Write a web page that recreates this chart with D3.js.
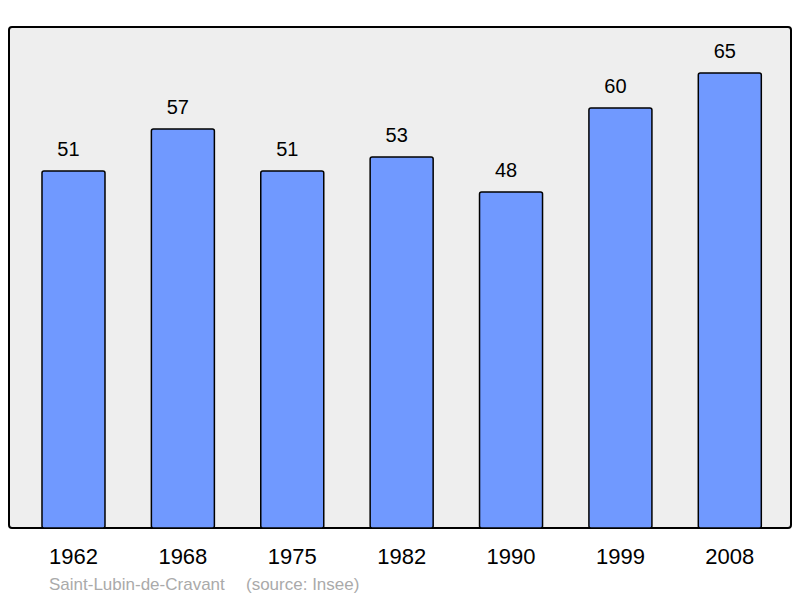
<!DOCTYPE html>
<html>
<head>
<meta charset="utf-8">
<script src="https://cdn.jsdelivr.net/npm/d3@7"></script>
<style>
  body { margin: 0; background: #fff; }
  svg { display: block; font-family: "Liberation Sans", Arial, sans-serif; }
</style>
</head>
<body>
<svg id="chart"></svg>
<script>
// population by census year
const years = ['1962', '1968', '1975', '1982', '1990', '1999', '2008'];
const population = [51, 57, 51, 53, 48, 60, 65];
const commune = 'Saint-Lubin-de-Cravant';
const source = '(source: Insee)';

const width = 800, height = 598;

const svg = d3.select('#chart')
    .attr('width', width)
    .attr('height', height);

// grey panel
svg.append('rect')
    .attr('x', 9).attr('y', 27)
    .attr('width', 782).attr('height', 501)
    .attr('rx', 3)
    .attr('fill', '#eeeeee')
    .attr('stroke', '#000')
    .attr('stroke-width', 2);

const data = years.map((y, i) => ({ year: y, value: population[i] }));

const x = d3.scaleBand()
    .domain(years)
    .range([18.8, 784.5])
    .paddingInner(0.424)
    .paddingOuter(0.212);

const y = d3.scaleLinear()
    .domain([0, 65])
    .range([528, 73]);

svg.append('g').selectAll('rect')
    .data(data)
    .join('rect')
    .attr('x', d => x(d.year))
    .attr('y', d => y(d.value))
    .attr('width', x.bandwidth())
    .attr('height', d => y(0) - y(d.value))
    .attr('rx', 2)
    .attr('fill', '#7099ff')
    .attr('stroke', '#000')
    .attr('stroke-width', 1.5);

// value labels (sit slightly left of bar centre)
svg.append('g').selectAll('text')
    .data(data)
    .join('text')
    .attr('x', d => x(d.year) + x.bandwidth() / 2 - 5)
    .attr('y', d => y(d.value) - 15)
    .attr('text-anchor', 'middle')
    .style('font-size', '20px')
    .text(d => d.value);

// year labels
svg.append('g').selectAll('text')
    .data(data)
    .join('text')
    .attr('x', d => x(d.year) + x.bandwidth() / 2)
    .attr('y', 564)
    .attr('text-anchor', 'middle')
    .style('font-size', '22px')
    .text(d => d.year);

// caption
svg.append('text')
    .attr('x', 49).attr('y', 590)
    .attr('fill', '#aaaaaa')
    .style('font-size', '17px')
    .text(commune);

svg.append('text')
    .attr('x', 246).attr('y', 590)
    .attr('fill', '#aaaaaa')
    .style('font-size', '17px')
    .text(source);
</script>
</body>
</html>
